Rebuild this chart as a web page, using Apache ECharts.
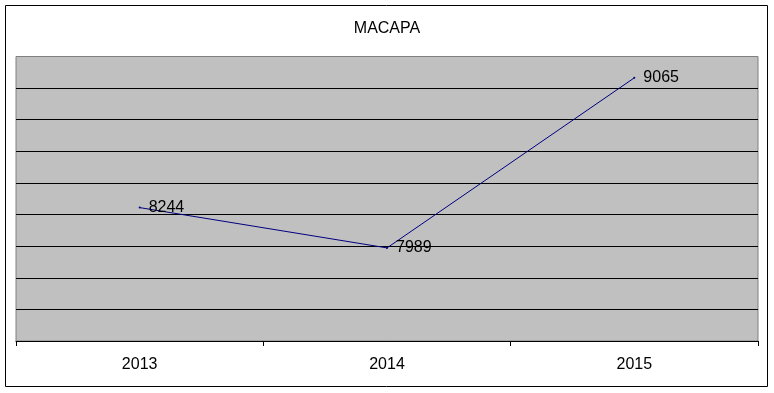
<!DOCTYPE html>
<html>
<head>
<meta charset="utf-8">
<script src="https://cdn.jsdelivr.net/npm/echarts@6/dist/echarts.min.js"></script>
<style>
html,body{margin:0;padding:0;background:#fff;}
#c{width:774px;height:393px;}
</style>
</head>
<body>
<div id="c"></div>
<script>
var title = 'MACAPA';
var categories = ['2013', '2014', '2015'];
var values = [8244, 7989, 9065];
var yMin = 7400;
var yMax = 9200;
var yInterval = 200;

var font = '"Liberation Sans", Arial, sans-serif';
var chart = echarts.init(document.getElementById('c'), null, {renderer: 'canvas'});
chart.setOption({
  backgroundColor: '#ffffff',
  animation: false,
  title: {
    text: title,
    left: 'center',
    top: 16,
    textStyle: {fontFamily: font, fontSize: 16, fontWeight: 'normal', color: '#000'}
  },
  graphic: [{
    type: 'rect',
    shape: {x: 5.5, y: 5.5, width: 762, height: 381},
    style: {fill: 'none', stroke: '#000', lineWidth: 1},
    silent: true
  }],
  grid: {
    left: 16, right: 16, top: 56.5, bottom: 52,
    show: true,
    backgroundColor: '#c0c0c0',
    borderColor: '#808080',
    borderWidth: 1
  },
  xAxis: {
    type: 'category',
    data: categories,
    boundaryGap: true,
    axisLine: {show: true, lineStyle: {color: '#000', width: 1}},
    axisTick: {show: true, length: 5, lineStyle: {color: '#000'}},
    axisLabel: {fontFamily: font, fontSize: 16, color: '#000', margin: 16},
    splitLine: {show: false}
  },
  yAxis: {
    type: 'value',
    min: yMin,
    max: yMax,
    interval: yInterval,
    axisLine: {show: false},
    axisTick: {show: false},
    axisLabel: {show: false},
    splitLine: {show: true, showMinLine: false, showMaxLine: false, lineStyle: {color: '#000', width: 1}}
  },
  series: [{
    type: 'line',
    data: values,
    showSymbol: true,
    symbol: 'circle',
    symbolSize: 2,
    lineStyle: {color: '#000080', width: 1},
    itemStyle: {color: '#000080'},
    label: {
      show: true,
      position: 'right',
      distance: 8,
      fontFamily: font,
      fontSize: 16,
      color: '#000'
    }
  }]
});
</script>
</body>
</html>
